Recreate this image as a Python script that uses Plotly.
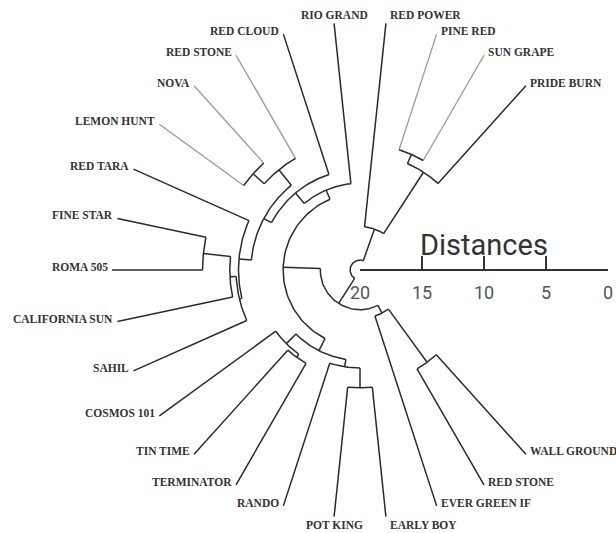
import numpy as np
import plotly.graph_objects as go

# ---------------- data ----------------
leaf_names = [
    "WALL GROUND", "RED STONE", "EVER GREEN IF", "EARLY BOY", "POT KING",
    "RANDO", "TERMINATOR", "TIN TIME", "COSMOS 101", "SAHIL",
    "CALIFORNIA SUN", "ROMA 505", "FINE STAR", "RED TARA", "LEMON HUNT",
    "NOVA", "RED STONE", "RED CLOUD", "RIO GRAND", "RED POWER",
    "PINE RED", "SUN GRAPE", "PRIDE BURN",
]
# linkage: node n+k joins link_a[k] and link_b[k] at distance link_h[k]
link_a = [0, 23, 3, 25, 6, 27, 26, 11, 10, 9, 32, 14, 34, 33, 36, 37, 29, 24, 20, 41, 19, 40]
link_b = [1, 2, 4, 5, 7, 8, 28, 12, 30, 31, 13, 15, 16, 35, 17, 18, 38, 39, 21, 22, 42, 43]
link_h = [10.8, 16.1, 10.5, 12.1, 11.3, 11.6, 12.7, 7.3, 9.5, 10.0, 10.2, 8.4, 9.6,
          11.2, 11.9, 13.0, 13.8, 16.8, 9.8, 10.6, 16.5, 19.2]
axis_ticks = [20, 15, 10, 5, 0]
max_dist = 20
light_leaves = [14, 15, 16, 20, 21]

# ---------------- layout constants ----------------
W, H = 616, 533
PX = 12.4           # pixels per distance unit
CX, CY = 360, 270   # centre of the circular tree (pixels)
n_slots = 30        # angular slots round the circle (gap kept for the axis)
start_angle = -48.0

n = len(leaf_names)
ang, rad = {}, {}
for i in range(n):
    ang[i] = start_angle - i * 360.0 / n_slots
    rad[i] = float(max_dist)
for k, (a, b, h) in enumerate(zip(link_a, link_b, link_h)):
    node = n + k
    ang[node] = (ang[a] + ang[b]) / 2.0
    rad[node] = max_dist - h


def pol(r, t):
    t = np.deg2rad(t)
    return r * np.cos(t), r * np.sin(t)


dark_x, dark_y, light_x, light_y = [], [], [], []
for k, (a, b, h) in enumerate(zip(link_a, link_b, link_h)):
    node = n + k
    R = rad[node]
    for c in (a, b):
        x0, y0 = pol(rad[c], ang[c])
        x1, y1 = pol(R, ang[c])
        if c in light_leaves:
            light_x += [x0, x1, None]
            light_y += [y0, y1, None]
        else:
            dark_x += [x0, x1, None]
            dark_y += [y0, y1, None]
    ts = np.linspace(ang[a], ang[b], 60)
    xs, ys = pol(R, ts)
    dark_x += list(xs) + [None]
    dark_y += list(ys) + [None]

fig = go.Figure()
fig.add_trace(go.Scatter(x=light_x, y=light_y, mode="lines",
                         line=dict(color="#9a9a9a", width=1.3),
                         hoverinfo="skip", showlegend=False))
fig.add_trace(go.Scatter(x=dark_x, y=dark_y, mode="lines",
                         line=dict(color="#2b2b2b", width=1.5),
                         hoverinfo="skip", showlegend=False))
# distance axis carrier trace
fig.add_trace(go.Scatter(x=axis_ticks, y=[0] * len(axis_ticks), xaxis="x2", yaxis="y",
                         mode="markers", marker=dict(opacity=0),
                         hoverinfo="skip", showlegend=False))

annotations = []
for i, name in enumerate(leaf_names):
    t = ang[i]
    x, y = pol(rad[i], t)
    c, s = np.cos(np.deg2rad(t)), np.sin(np.deg2rad(t))
    if c > 0.05:
        xa, xs = "left", 2
    elif c < -0.2:
        xa, xs = "right", -2
    else:
        xa, xs = "center", 0
    if abs(c) < 0.2:
        ya = "bottom" if s > 0 else "top"
        ysh = 0
    else:
        ya, ysh = "middle", 3
    annotations.append(dict(x=x, y=y, xref="x", yref="y", text="<b>%s</b>" % name,
                            showarrow=False,
                            xanchor=xa, yanchor=ya, xshift=xs, yshift=ysh,
                            font=dict(family="Liberation Serif", size=11.5, color="#333")))

annotations.append(dict(x=max_dist / 2, y=2.0, xref="x2", yref="y", text="Distances",
                        showarrow=False, xanchor="center", yanchor="middle",
                        font=dict(family="Roboto", size=29, color="#333")))

fig.update_layout(
    width=W, height=H, margin=dict(l=0, r=0, t=0, b=0, autoexpand=False),
    paper_bgcolor="white", plot_bgcolor="rgba(0,0,0,0)",
    xaxis=dict(range=[-CX / PX, (W - CX) / PX], visible=False, domain=[0, 1]),
    yaxis=dict(range=[-(H - CY) / PX, CY / PX], visible=False, domain=[0, 1]),
    xaxis2=dict(domain=[CX / W, (CX + max_dist * PX) / W], range=[max_dist, 0],
                anchor="free", position=(H - CY) / H, automargin=False,
                showline=True, linecolor="#333", linewidth=1.5,
                ticks="inside", ticklen=13, tickwidth=1.5, tickcolor="#333",
                tickvals=axis_ticks, showgrid=False, zeroline=False,
                ticklabelstandoff=7,
                tickfont=dict(family="Roboto", size=18, color="#555")),
    annotations=annotations,
)

fig.write_html("out.html", config={"displayModeBar": False},
               post_script="document.body.style.margin='0';document.body.style.padding='0';"
                           "document.body.style.overflow='hidden';")
